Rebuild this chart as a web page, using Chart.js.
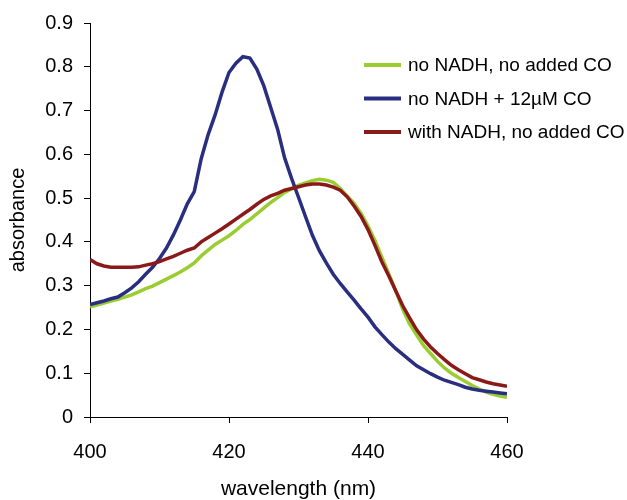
<!DOCTYPE html>
<html>
<head>
<meta charset="utf-8">
<script src="https://cdn.jsdelivr.net/npm/chart.js@4.4.1/dist/chart.umd.min.js"></script>
<style>
  html, body { margin: 0; padding: 0; background: #fff; }
  #grafico { display: block; }
</style>
</head>
<body>
<canvas id="grafico" width="627" height="500"></canvas>
<script>
// wavelength (nm)
const comprimentos = [
  400, 401, 402, 403, 404, 405, 406, 407, 408, 409,
  410, 411, 412, 413, 414, 415, 416, 417, 418, 419,
  420, 421, 422, 423, 424, 425, 426, 427, 428, 429,
  430, 431, 432, 433, 434, 435, 436, 437, 438, 439,
  440, 441, 442, 443, 444, 445, 446, 447, 448, 449,
  450, 451, 452, 453, 454, 455, 456, 457, 458, 459, 460
];

// no NADH, no added CO
const semNadh = [
  0.252, 0.256, 0.260, 0.265, 0.269, 0.274, 0.279, 0.286, 0.293, 0.299,
  0.307, 0.315, 0.323, 0.331, 0.341, 0.352, 0.368, 0.381, 0.394, 0.404,
  0.414, 0.426, 0.440, 0.451, 0.464, 0.477, 0.490, 0.501, 0.513, 0.521,
  0.529, 0.535, 0.540, 0.543, 0.541, 0.536, 0.522, 0.505, 0.488, 0.465,
  0.436, 0.403, 0.365, 0.327, 0.288, 0.246, 0.212, 0.187, 0.163, 0.145,
  0.127, 0.112, 0.100, 0.090, 0.081, 0.072, 0.064, 0.057, 0.052, 0.048, 0.045
];

// no NADH + 12uM CO
const semNadhCo = [
  0.257, 0.261, 0.265, 0.270, 0.274, 0.284, 0.295, 0.309, 0.326, 0.342,
  0.362, 0.386, 0.416, 0.450, 0.487, 0.515, 0.590, 0.645, 0.690, 0.742,
  0.787, 0.808, 0.823, 0.820, 0.795, 0.757, 0.707, 0.657, 0.592, 0.545,
  0.502, 0.458, 0.415, 0.380, 0.352, 0.326, 0.305, 0.286, 0.267, 0.247,
  0.228, 0.206, 0.188, 0.171, 0.156, 0.143, 0.130, 0.117, 0.108, 0.099,
  0.091, 0.084, 0.079, 0.074, 0.068, 0.064, 0.061, 0.059, 0.057, 0.055, 0.053
];

// with NADH, no added CO
const comNadh = [
  0.360, 0.350, 0.345, 0.342, 0.342, 0.342, 0.342, 0.343, 0.347, 0.350,
  0.355, 0.361, 0.367, 0.374, 0.381, 0.386, 0.400, 0.410, 0.420, 0.430,
  0.441, 0.452, 0.463, 0.474, 0.486, 0.497, 0.505, 0.511, 0.518, 0.522,
  0.526, 0.530, 0.532, 0.532, 0.530, 0.525, 0.518, 0.503, 0.482, 0.458,
  0.428, 0.392, 0.354, 0.322, 0.288, 0.254, 0.226, 0.199, 0.178, 0.160,
  0.145, 0.131, 0.118, 0.108, 0.099, 0.090, 0.085, 0.080, 0.076, 0.073, 0.070
];

const ticksX = [400, 420, 440, 460];
const ticksY = [0, 0.1, 0.2, 0.3, 0.4, 0.5, 0.6, 0.7, 0.8, 0.9];

const fonte = '"Liberation Sans", Arial, sans-serif';

function pontos(valores) {
  return comprimentos.map((x, i) => ({ x: x, y: valores[i] }));
}

// legenda desenhada na mao, canto superior direito
const legendaManual = {
  id: 'legendaManual',
  afterDraw(chart) {
    const ctx = chart.ctx;
    ctx.save();
    ctx.font = '19px ' + fonte;
    ctx.textBaseline = 'middle';
    ctx.textAlign = 'left';
    chart.data.datasets.forEach((ds, i) => {
      const y = 65 + i * 33.5;
      ctx.strokeStyle = ds.borderColor;
      ctx.lineWidth = 4;
      ctx.beginPath();
      ctx.moveTo(364, y);
      ctx.lineTo(401, y);
      ctx.stroke();
      ctx.fillStyle = '#000';
      ctx.fillText(ds.label, 408, y + 1);
    });
    ctx.restore();
  }
};

new Chart(document.getElementById('grafico'), {
  type: 'line',
  data: {
    datasets: [
      { label: 'no NADH, no added CO', data: pontos(semNadh), borderColor: '#9acd32', order: 2 },
      { label: 'no NADH + 12\u00b5M CO', data: pontos(semNadhCo), borderColor: '#2a2e80', order: 1 },
      { label: 'with NADH, no added CO', data: pontos(comNadh), borderColor: '#8a1a1a', order: 0 }
    ]
  },
  options: {
    responsive: false,
    animation: false,
    devicePixelRatio: 1,
    layout: { padding: { top: 18, right: 120, left: 0, bottom: 0 } },
    elements: {
      line: { borderWidth: 3.5, tension: 0, fill: false },
      point: { radius: 0 }
    },
    plugins: {
      legend: { display: false },
      tooltip: { enabled: false }
    },
    scales: {
      x: {
        type: 'linear',
        min: 400,
        max: 460,
        afterFit: s => { s.height = 83; },
        afterBuildTicks: s => { s.ticks = ticksX.map(v => ({ value: v })); },
        grid: { drawOnChartArea: false, drawTicks: true, tickLength: 6, color: '#000' },
        border: { display: true, color: '#000', width: 1 },
        ticks: { color: '#000', font: { family: fonte, size: 20 }, padding: 17, maxRotation: 0 },
        title: {
          display: true,
          text: 'wavelength (nm)',
          color: '#000',
          font: { family: fonte, size: 21, lineHeight: 1 },
          padding: { top: 0, bottom: 0 }
        }
      },
      y: {
        min: 0,
        max: 0.9,
        afterFit: s => { s.width = 90; },
        afterBuildTicks: s => { s.ticks = ticksY.map(v => ({ value: v })); },
        grid: { drawOnChartArea: false, drawTicks: true, tickLength: 6, color: '#000' },
        border: { display: true, color: '#000', width: 1 },
        ticks: {
          color: '#000',
          font: { family: fonte, size: 20 },
          padding: 11,
          callback: v => (v === 0 ? '0' : v.toFixed(1))
        },
        title: {
          display: true,
          text: 'absorbance',
          color: '#000',
          font: { family: fonte, size: 20 },
          padding: { top: 6, bottom: 0 }
        }
      }
    }
  },
  plugins: [legendaManual]
});
</script>
</body>
</html>
